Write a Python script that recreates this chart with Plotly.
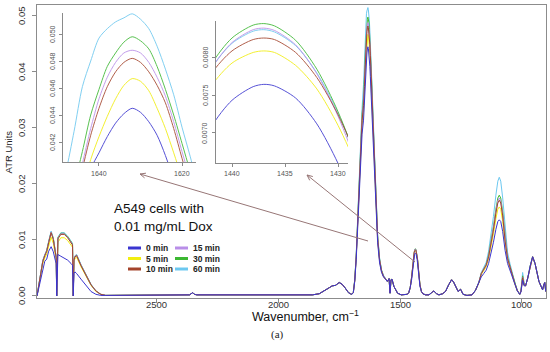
import math
import plotly.graph_objects as go

# ---------------- data ----------------
series_names = ["0 min", "5 min", "10 min", "15 min", "30 min", "60 min"]
series_colors = ["#3a35d0", "#f2ee10", "#a4442c", "#b98ee8", "#3cb832", "#6cc8f0"]

# C-H stretching region (per series)
wn_ch = [2992, 2985, 2979, 2968, 2960, 2952, 2944, 2934, 2925, 2917, 2913, 2911, 2909, 2906,
         2894, 2880, 2866, 2852, 2846, 2843, 2840, 2836, 2829, 2811, 2791, 2770, 2750, 2730, 2710]
ch_0 = [0.0000, 0.0014, 0.0025, 0.0050, 0.0062, 0.0066, 0.0080, 0.0088, 0.0079, 0.0064, 0.0058, 0.0000, 0.0060, 0.0074,
        0.0071, 0.0068, 0.0064, 0.0058, 0.0055, 0.0000, 0.0040, 0.0043, 0.0040, 0.0030, 0.0019, 0.0008, 0.0003, 0.0001, 0.0001]
ch_5 = [0.0000, 0.0018, 0.0034, 0.0058, 0.0068, 0.0075, 0.0089, 0.0105, 0.0094, 0.0073, 0.0064, 0.0000, 0.0073, 0.0096,
        0.0104, 0.0104, 0.0099, 0.0090, 0.0087, 0.0000, 0.0061, 0.0067, 0.0069, 0.0052, 0.0035, 0.0019, 0.0008, 0.0003, 0.0001]
ch_10 = [0.0000, 0.0019, 0.0036, 0.0062, 0.0072, 0.0080, 0.0095, 0.0113, 0.0101, 0.0078, 0.0068, 0.0000, 0.0078, 0.0102,
         0.0110, 0.0110, 0.0104, 0.0095, 0.0091, 0.0000, 0.0064, 0.0070, 0.0072, 0.0054, 0.0036, 0.0020, 0.0009, 0.0003, 0.0001]
ch_15 = [0.0000, 0.0020, 0.0036, 0.0063, 0.0073, 0.0081, 0.0096, 0.0114, 0.0102, 0.0079, 0.0069, 0.0000, 0.0079, 0.0103,
         0.0111, 0.0111, 0.0105, 0.0096, 0.0092, 0.0000, 0.0065, 0.0071, 0.0073, 0.0055, 0.0037, 0.0020, 0.0009, 0.0003, 0.0001]
ch_30 = [0.0000, 0.0020, 0.0037, 0.0063, 0.0073, 0.0081, 0.0097, 0.0114, 0.0103, 0.0079, 0.0069, 0.0000, 0.0079, 0.0104,
         0.0112, 0.0112, 0.0106, 0.0097, 0.0093, 0.0000, 0.0065, 0.0071, 0.0073, 0.0055, 0.0037, 0.0020, 0.0009, 0.0003, 0.0001]
ch_60 = [0.0000, 0.0020, 0.0037, 0.0064, 0.0074, 0.0082, 0.0098, 0.0116, 0.0104, 0.0080, 0.0070, 0.0000, 0.0080, 0.0105,
         0.0113, 0.0113, 0.0107, 0.0098, 0.0094, 0.0000, 0.0066, 0.0072, 0.0074, 0.0056, 0.0038, 0.0021, 0.0009, 0.0003, 0.0001]

# flat region (all series overlap)
wn_base1 = [2690, 2600, 2500, 2400, 2365, 2352, 2345, 2335, 2300, 2200, 2100, 2000, 1900, 1860,
            1832, 1810, 1790, 1779, 1765, 1750, 1738, 1725, 1712, 1704]
base1 = [0.0001, 0.0001, 0.0001, 0.0002, 0.0002, 0.0006, 0.0003, 0.0002, 0.0002, 0.0002, 0.0001, 0.0001, 0.0002, 0.0002,
         0.0004, 0.0009, 0.0015, 0.0018, 0.0019, 0.0024, 0.0021, 0.0014, 0.0006, 0.0004]

# amide I band (per series)
wn_amide = [1698, 1692, 1686, 1680, 1672, 1664, 1656, 1650, 1648, 1646, 1644, 1642, 1640, 1638, 1636, 1634, 1632,
            1630, 1628, 1626, 1624, 1622, 1620, 1618, 1616, 1612, 1606, 1600, 1592, 1584, 1576, 1568, 1560]
am_0 = [0.0003, 0.0006, 0.0026, 0.0065, 0.0148, 0.0226, 0.0289, 0.0314, 0.0332, 0.0355, 0.0378, 0.0400, 0.0412, 0.0424,
        0.0434, 0.0441, 0.0445, 0.0442, 0.0435, 0.0425, 0.0410, 0.0392, 0.0372, 0.0352, 0.0332, 0.0295, 0.0232, 0.0168,
        0.0095, 0.0059, 0.0042, 0.0034, 0.0030]
am_5 = [0.0003, 0.0006, 0.0027, 0.0068, 0.0156, 0.0238, 0.0304, 0.0328, 0.0342, 0.0362, 0.0385, 0.0407, 0.0424, 0.0439,
        0.0452, 0.0462, 0.0467, 0.0465, 0.0458, 0.0445, 0.0430, 0.0412, 0.0393, 0.0374, 0.0355, 0.0309, 0.0243, 0.0177,
        0.0100, 0.0062, 0.0044, 0.0035, 0.0030]
am_10 = [0.0003, 0.0006, 0.0028, 0.0070, 0.0161, 0.0245, 0.0313, 0.0340, 0.0352, 0.0374, 0.0400, 0.0425, 0.0445, 0.0461,
         0.0472, 0.0479, 0.0482, 0.0479, 0.0472, 0.0462, 0.0449, 0.0430, 0.0408, 0.0387, 0.0367, 0.0318, 0.0251, 0.0182,
         0.0103, 0.0064, 0.0045, 0.0035, 0.0031]
am_15 = [0.0003, 0.0006, 0.0028, 0.0071, 0.0163, 0.0248, 0.0318, 0.0345, 0.0358, 0.0378, 0.0404, 0.0430, 0.0452, 0.0468,
         0.0479, 0.0486, 0.0488, 0.0486, 0.0479, 0.0468, 0.0454, 0.0435, 0.0413, 0.0392, 0.0372, 0.0323, 0.0254, 0.0185,
         0.0105, 0.0065, 0.0045, 0.0036, 0.0031]
am_30 = [0.0003, 0.0006, 0.0029, 0.0072, 0.0166, 0.0253, 0.0324, 0.0352, 0.0366, 0.0388, 0.0413, 0.0440, 0.0459, 0.0476,
         0.0486, 0.0494, 0.0498, 0.0495, 0.0489, 0.0476, 0.0459, 0.0440, 0.0419, 0.0398, 0.0378, 0.0329, 0.0259, 0.0189,
         0.0107, 0.0066, 0.0046, 0.0036, 0.0031]
am_60 = [0.0003, 0.0006, 0.0030, 0.0075, 0.0172, 0.0262, 0.0335, 0.0378, 0.0398, 0.0428, 0.0461, 0.0480, 0.0497, 0.0504,
         0.0509, 0.0512, 0.0515, 0.0511, 0.0504, 0.0491, 0.0474, 0.0455, 0.0431, 0.0409, 0.0385, 0.0340, 0.0268, 0.0195,
         0.0110, 0.0068, 0.0047, 0.0037, 0.0032]

# region between amide I and 1440 band (overlapping)
wn_base2 = [1556, 1552, 1545, 1541, 1537, 1533, 1525, 1517, 1510, 1495, 1480, 1470, 1464, 1458]
base2 = [0.0028, 0.0026, 0.0031, 0.0005, 0.0029, 0.0030, 0.0017, 0.0009, 0.0005, 0.0002, 0.0002, 0.0003, 0.0006, 0.0015]

# 1440 band (per series)
wn_1440 = [1452, 1446, 1442, 1440, 1438, 1437, 1436, 1434, 1432, 1430, 1428, 1424, 1418]
b1440_0 = [0.0030, 0.00584, 0.00707, 0.00743, 0.00761, 0.00764, 0.00762, 0.00746, 0.00712, 0.00660, 0.00591, 0.00402, 0.0017]
b1440_5 = [0.0034, 0.00654, 0.00761, 0.00792, 0.00806, 0.00808, 0.00806, 0.00789, 0.00758, 0.00710, 0.00647, 0.00475, 0.0020]
b1440_10 = [0.0035, 0.00666, 0.00777, 0.00808, 0.00823, 0.00825, 0.00823, 0.00806, 0.00773, 0.00724, 0.00659, 0.00480, 0.0020]
b1440_15 = [0.0034, 0.00656, 0.00783, 0.00819, 0.00836, 0.00838, 0.00835, 0.00816, 0.00778, 0.00722, 0.00648, 0.00443, 0.0019]
b1440_30 = [0.0034, 0.00662, 0.00789, 0.00825, 0.00842, 0.00844, 0.00841, 0.00822, 0.00784, 0.00728, 0.00654, 0.00449, 0.0019]
b1440_60 = [0.0035, 0.00663, 0.00784, 0.00818, 0.00834, 0.00836, 0.00833, 0.00815, 0.00779, 0.00726, 0.00655, 0.00462, 0.0020]

# 1410 - 1183 (overlapping)
wn_base3 = [1412, 1406, 1395, 1381, 1370, 1361, 1350, 1340, 1325, 1313, 1300, 1288, 1280, 1272, 1261, 1251, 1241,
            1225, 1204, 1190, 1183]
base3 = [0.0008, 0.0004, 0.0002, 0.0002, 0.0006, 0.0009, 0.0004, 0.0002, 0.0004, 0.0008, 0.0020, 0.0029, 0.0025, 0.0017,
         0.0008, 0.0012, 0.0003, 0.0001, 0.0002, 0.0010, 0.0017]

# 1080 band (per series)
wn_1080 = [1176, 1166, 1156, 1146, 1136, 1126, 1116, 1106, 1098, 1092, 1086, 1078, 1068, 1058, 1048, 1038, 1028,
           1018, 1008, 1003, 996, 990]
p1080_0 = [0.0021, 0.0034, 0.0040, 0.0046, 0.0058, 0.0076, 0.0096, 0.0119, 0.0133, 0.0136, 0.0133, 0.0115, 0.0081,
           0.0058, 0.0045, 0.0032, 0.0020, 0.0009, 0.0003, 0.0007, 0.0028, 0.0018]
p1080_5 = [0.0023, 0.0038, 0.0046, 0.0052, 0.0066, 0.0087, 0.0111, 0.0138, 0.0155, 0.0159, 0.0155, 0.0133, 0.0092,
           0.0064, 0.0049, 0.0035, 0.0021, 0.0009, 0.0003, 0.0008, 0.0031, 0.0019]
p1080_10 = [0.0024, 0.0040, 0.0048, 0.0055, 0.0070, 0.0092, 0.0118, 0.0148, 0.0166, 0.0171, 0.0166, 0.0143, 0.0098,
            0.0067, 0.0051, 0.0036, 0.0022, 0.0010, 0.0003, 0.0008, 0.0033, 0.0020]
p1080_15 = [0.0024, 0.0040, 0.0049, 0.0055, 0.0071, 0.0094, 0.0121, 0.0151, 0.0170, 0.0175, 0.0170, 0.0146, 0.0100,
            0.0068, 0.0052, 0.0036, 0.0022, 0.0010, 0.0003, 0.0008, 0.0034, 0.0020]
p1080_30 = [0.0024, 0.0040, 0.0049, 0.0056, 0.0073, 0.0096, 0.0124, 0.0155, 0.0175, 0.0180, 0.0175, 0.0150, 0.0103,
            0.0070, 0.0053, 0.0037, 0.0023, 0.0010, 0.0003, 0.0009, 0.0036, 0.0021]
p1080_60 = [0.0025, 0.0042, 0.0052, 0.0060, 0.0080, 0.0108, 0.0142, 0.0180, 0.0205, 0.0212, 0.0205, 0.0175, 0.0118,
            0.0078, 0.0058, 0.0040, 0.0024, 0.0010, 0.0003, 0.0010, 0.0042, 0.0024]

# low-wavenumber tail (overlapping)
wn_tail = [984, 975, 965, 955, 945, 937, 929, 921, 914, 909, 905, 901]
tail = [0.0018, 0.0032, 0.0054, 0.0070, 0.0058, 0.0040, 0.0026, 0.0018, 0.0011, 0.0020, 0.0024, 0.0008]

main_xticks = [2500, 2000, 1500, 1000]
main_yticks = [0.00, 0.01, 0.02, 0.03, 0.04, 0.05]
main_yticktext = ["0.00", "0.01", "0.02", "0.03", "0.04", "0.05"]
inset1_xticks = [1640, 1620]
inset1_yticks = [0.042, 0.044, 0.046, 0.048, 0.050]
inset2_xticks = [1440, 1435, 1430]
inset2_yticks = [0.0070, 0.0075, 0.0080]

# ---------------- assemble series ----------------
wavenumber = wn_ch + wn_base1 + wn_amide + wn_base2 + wn_1440 + wn_base3 + wn_1080 + wn_tail
per_series = {
    "0 min": (ch_0, am_0, b1440_0, p1080_0),
    "5 min": (ch_5, am_5, b1440_5, p1080_5),
    "10 min": (ch_10, am_10, b1440_10, p1080_10),
    "15 min": (ch_15, am_15, b1440_15, p1080_15),
    "30 min": (ch_30, am_30, b1440_30, p1080_30),
    "60 min": (ch_60, am_60, b1440_60, p1080_60),
}
spectra = {}
for name, (c, a, b, p) in per_series.items():
    y = c + base1 + a + base2 + b + base3 + p + tail
    assert len(y) == len(wavenumber), name
    spectra[name] = y

# ---------------- layout helpers ----------------
W, H = 550, 352
ML, MR, MT, MB = 37, 4, 5, 54
PW, PH = W - ML - MR, H - MT - MB


def pxx(px):
    return (px - ML) / PW


def pxy(py):
    return (H - MB - py) / PH


FONT = "Liberation Sans, Arial, sans-serif"
frame = "#8c8c8c"

fig = go.Figure()
draw_order = ["5 min", "60 min", "30 min", "15 min", "10 min", "0 min"]
color_of = dict(zip(series_names, series_colors))
for name in draw_order:
    fig.add_trace(go.Scatter(x=wavenumber, y=spectra[name], mode="lines", name=name,
                             line=dict(color=color_of[name], width=1),
                             xaxis="x", yaxis="y", hoverinfo="skip", showlegend=False))
for name in draw_order:
    for xa, ya in (("x2", "y2"), ("x3", "y3")):
        fig.add_trace(go.Scatter(x=wavenumber, y=spectra[name], mode="lines", name=name,
                                 line=dict(color=color_of[name], width=1, shape="spline", smoothing=0.8),
                                 opacity=0.85, xaxis=xa, yaxis=ya, hoverinfo="skip", showlegend=False))

inset_axis = dict(showline=True, mirror=False, linecolor="#8a8a8a", linewidth=1, ticks="outside",
                  ticklen=3, tickcolor="#8a8a8a", showgrid=False, zeroline=False, showticklabels=False,
                  automargin=False)
main_axis = dict(ticks="outside", ticklen=4, showline=True, mirror=True, linecolor=frame, tickcolor=frame,
                 linewidth=1, showgrid=False, zeroline=False, showticklabels=False, automargin=False)

fig.update_layout(
    width=W, height=H,
    margin=dict(l=ML, r=MR, t=MT, b=MB, pad=0, autoexpand=False),
    paper_bgcolor="white", plot_bgcolor="rgba(0,0,0,0)",
    showlegend=False,
    xaxis=dict(domain=[0, 1], range=[2992, 900], tickvals=main_xticks, **main_axis),
    yaxis=dict(domain=[0, 1], range=[-0.00036, 0.05196], tickvals=main_yticks, **main_axis),
    xaxis2=dict(domain=[pxx(63), pxx(196)], anchor="y2", range=[1648.67, 1616.63], tickvals=inset1_xticks,
                **inset_axis),
    yaxis2=dict(domain=[pxy(162), pxy(13)], anchor="x2", range=[0.04052, 0.05156], tickvals=inset1_yticks,
                **inset_axis),
    xaxis3=dict(domain=[pxx(216), pxx(348)], anchor="y3", range=[1441.51, 1429.06], tickvals=inset2_xticks,
                **inset_axis),
    yaxis3=dict(domain=[pxy(163), pxy(21)], anchor="x3", range=[0.006605, 0.008474], tickvals=inset2_yticks,
                **inset_axis),
)

C = dict(xanchor="center", yanchor="middle", showarrow=False)

# tick labels (placed as in the reference)
TICK = dict(family=FONT, size=9.5, color="#333")
ITICK = dict(family=FONT, size=7, color="#555")
for v, t in zip(main_yticks, main_yticktext):
    fig.add_annotation(text=t, x=pxx(22), xref="paper", y=v, yref="y", textangle=-90, font=TICK, **C)
for v in main_xticks:
    fig.add_annotation(text=str(v), x=v, xref="x", y=pxy(304), yref="paper", font=TICK, **C)
for v in inset1_xticks:
    fig.add_annotation(text=str(v), x=v, xref="x2", y=pxy(173), yref="paper", font=ITICK, **C)
for v in inset1_yticks:
    fig.add_annotation(text="%.3f" % v, x=pxx(52), xref="paper", y=v, yref="y2", textangle=-90, font=ITICK, **C)
for v in inset2_xticks:
    fig.add_annotation(text=str(v), x=v, xref="x3", y=pxy(173), yref="paper", font=ITICK, **C)
for v in inset2_yticks:
    fig.add_annotation(text="%.4f" % v, x=pxx(205), xref="paper", y=v, yref="y3", textangle=-90, font=ITICK, **C)

# texts
fig.add_annotation(text="ATR Units", x=pxx(7.5), y=pxy(152), xref="paper", yref="paper", textangle=-90,
                   font=dict(family=FONT, size=9.5, color="#222"), **C)
fig.add_annotation(text="Wavenumber, cm<sup>\u22121</sup>", x=pxx(305), y=pxy(316), xref="paper", yref="paper",
                   font=dict(family=FONT, size=12.5, color="#111"), **C)
fig.add_annotation(text="(a)", x=pxx(277), y=pxy(334), xref="paper", yref="paper",
                   font=dict(family="Liberation Serif, Times New Roman, serif", size=11, color="#222"), **C)
fig.add_annotation(text="A549 cells with", x=pxx(112), y=pxy(208), xref="paper", yref="paper",
                   xanchor="left", yanchor="middle", showarrow=False,
                   font=dict(family=FONT, size=13.5, color="#111"))
fig.add_annotation(text="0.01 mg/mL Dox", x=pxx(112), y=pxy(226), xref="paper", yref="paper",
                   xanchor="left", yanchor="middle", showarrow=False,
                   font=dict(family=FONT, size=13.5, color="#111"))

# legend (two columns, drawn manually)
legend_cols = [["0 min", "5 min", "10 min"], ["15 min", "30 min", "60 min"]]
col_sw = [(128, 141, 144), (175, 188, 191)]
row_y = [248, 258.5, 269]
for ci, col in enumerate(legend_cols):
    x0, x1, xt = col_sw[ci]
    for ri, name in enumerate(col):
        fig.add_shape(type="line", xref="paper", yref="paper", x0=pxx(x0), x1=pxx(x1),
                      y0=pxy(row_y[ri]), y1=pxy(row_y[ri]), line=dict(color=color_of[name], width=3))
        fig.add_annotation(text="<b>%s</b>" % name, x=pxx(xt), y=pxy(row_y[ri]), xref="paper", yref="paper",
                           xanchor="left", yanchor="middle", showarrow=False,
                           font=dict(family=FONT, size=8.5, color="#222"))

# arrows from the bands to the insets (drawn as line shapes, open V heads)
arrow_color = "#977676"


def add_arrow(tail_px, head_px, head_len=6.0, spread=0.42):
    tx, ty = tail_px
    hx, hy = head_px
    fig.add_shape(type="line", xref="paper", yref="paper", x0=pxx(tx), y0=pxy(ty), x1=pxx(hx), y1=pxy(hy),
                  line=dict(color=arrow_color, width=1))
    ang = math.atan2(ty - hy, tx - hx)
    for s in (-spread, spread):
        wx = hx + head_len * math.cos(ang + s)
        wy = hy + head_len * math.sin(ang + s)
        fig.add_shape(type="line", xref="paper", yref="paper", x0=pxx(hx), y0=pxy(hy), x1=pxx(wx), y1=pxy(wy),
                      line=dict(color=arrow_color, width=1))


add_arrow((368, 241), (140, 174))
add_arrow((415, 262), (307, 175))

fig.write_html("out.html", config={"displayModeBar": False},
               post_script="document.body.style.margin='0';document.body.style.padding='0';")
